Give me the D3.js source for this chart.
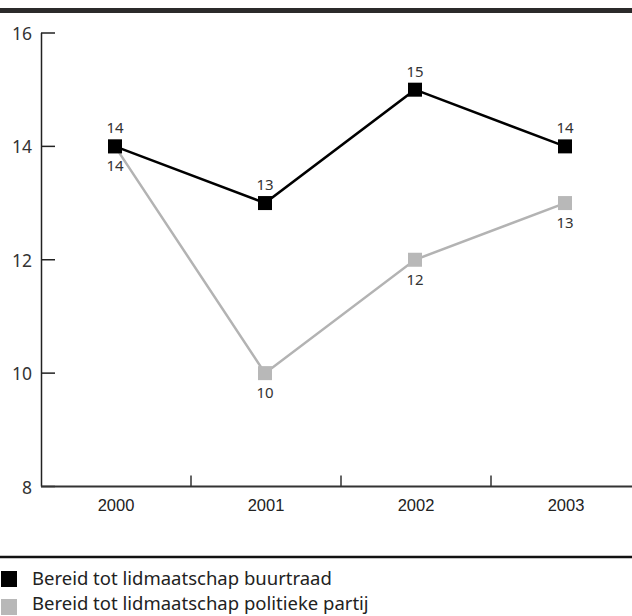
<!DOCTYPE html>
<html><head><meta charset="utf-8">
<script src="https://cdn.jsdelivr.net/npm/d3@7/dist/d3.min.js"></script>
<style>body{margin:0;background:#fff}svg{display:block}</style>
</head><body>
<script>
const years = ["2000","2001","2002","2003"];
const buurtraad = [14,13,15,14];
const partij = [14,10,12,13];
const yTicks = [8,10,12,14,16];
const seriesNames = ["Bereid tot lidmaatschap buurtraad","Bereid tot lidmaatschap politieke partij"];

const W=632,H=616;
const svg=d3.select("body").append("svg").attr("width",W).attr("height",H);
const sans="'Noto Sans', 'Open Sans', sans-serif";

// top bar
svg.append("rect").attr("x",0).attr("y",8).attr("width",W).attr("height",5).attr("fill","#2b2a2a");

const x=d3.scaleBand().domain(years).range([41,641]);
const y=d3.scaleLinear().domain([8,16]).range([486.5,33]);

// y axis
svg.append("line").attr("x1",41.5).attr("x2",41.5).attr("y1",y(16)).attr("y2",y(8)).attr("stroke","#222").attr("stroke-width",1.5);
yTicks.forEach(t=>{
  svg.append("line").attr("x1",41).attr("x2",55).attr("y1",y(t)).attr("y2",y(t)).attr("stroke","#222").attr("stroke-width",1.5);
  svg.append("text").attr("x",32).attr("y",y(t)+7).attr("text-anchor","end")
    .attr("font-family",sans).attr("font-size",17.5).attr("fill","#333").text(t);
});
// x axis
svg.append("line").attr("x1",41).attr("x2",W).attr("y1",y(8)).attr("y2",y(8)).attr("stroke","#333").attr("stroke-width",2);
years.slice(1).forEach(yr=>{
  svg.append("line").attr("x1",x(yr)).attr("x2",x(yr)).attr("y1",y(8)).attr("y2",y(8)-11).attr("stroke","#333").attr("stroke-width",1.5);
});
years.forEach(yr=>{
  svg.append("text").attr("x",x(yr)+x.bandwidth()/2).attr("y",511).attr("text-anchor","middle")
    .attr("font-family","'Liberation Sans', Arial, sans-serif").attr("font-size",16.5).attr("fill","#222").text(yr);
});

const cx=yr=>x(yr)+x.bandwidth()/2-1;
const line=d3.line().x((d,i)=>cx(years[i])).y(d=>y(d));

function drawSeries(vals,color,lineColor,lw,above){
  svg.append("path").datum(vals).attr("d",line).attr("fill","none").attr("stroke",lineColor).attr("stroke-width",lw);
  return ()=>{
    vals.forEach((v,i)=>{
      svg.append("rect").attr("x",cx(years[i])-7).attr("y",y(v)-7).attr("width",14).attr("height",14).attr("fill",color);
      svg.append("text").attr("x",cx(years[i])).attr("y",above? y(v)-13 : y(v)+25).attr("text-anchor","middle")
        .attr("font-family",sans).attr("font-size",15).attr("fill","#333").text(v);
    });
  };
}
const m2=drawSeries(partij,"#b8b8b8","#b3b3b3",2.5,false);
const m1=drawSeries(buurtraad,"#000","#000",2.5,true);
m2(); m1();

// legend
svg.append("line").attr("x1",0).attr("x2",W).attr("y1",557).attr("y2",557).attr("stroke","#111").attr("stroke-width",2.5);
const legColors=["#000","#b8b8b8"];
seriesNames.forEach((n,i)=>{
  svg.append("rect").attr("x",1).attr("y",571+i*28).attr("width",16).attr("height",16).attr("fill",legColors[i]);
  svg.append("text").attr("x",32).attr("y",585+i*25).attr("font-family",sans).attr("font-size",18.5).attr("fill","#222").text(n);
});
</script>
</body></html>
